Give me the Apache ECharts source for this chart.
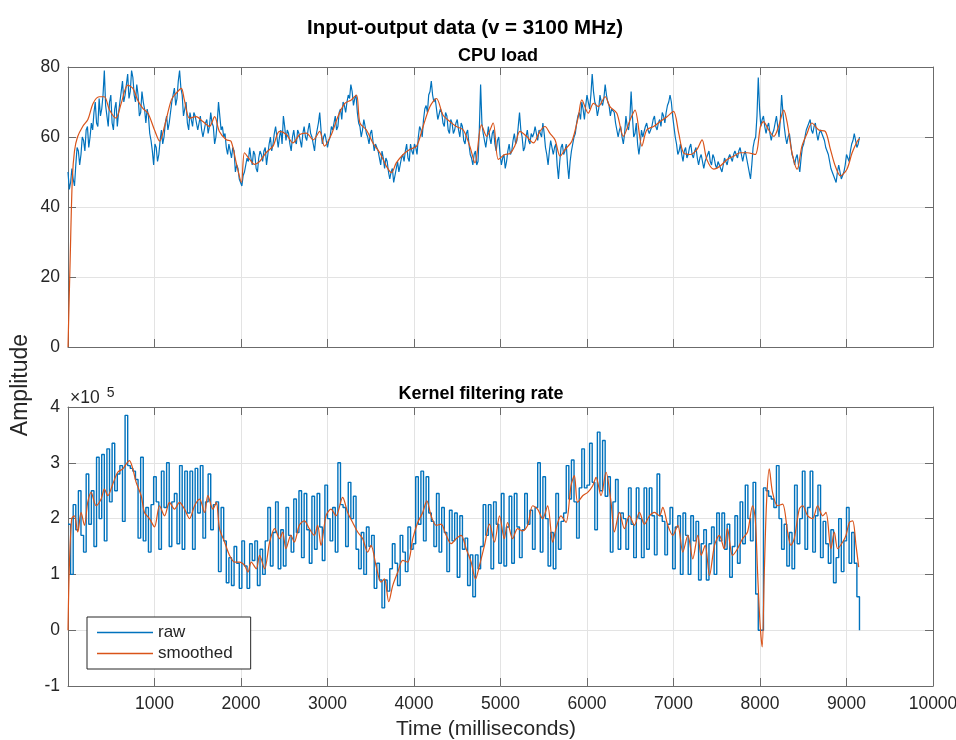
<!DOCTYPE html>
<html>
<head>
<meta charset="utf-8">
<script src="https://cdn.jsdelivr.net/npm/echarts@6/dist/echarts.min.js"></script>
<style>html,body{margin:0;padding:0;background:#fff}#c{width:956px;height:740px}</style>
</head>
<body>
<div id="c"></div>
<script>
// ---- data ----
const cpuRawStep = 15; // ms between raw CPU samples
const cpuRaw = [
 50,45,47,51,48,46,52,57,56,52,55,60,59,56,62,63,57,60,64,62,
 67,70,64,63,71,66,68,72,79,69,66,63,70,72,64,62,68,70,63,67,
 70,73,76,70,72,75,78,71,73,79,77,72,70,75,72,66,67,73,70,68,
 64,68,66,61,59,56,52,58,57,53,55,59,62,58,60,64,66,62,64,67,
 70,72,74,69,71,76,79,74,72,66,68,70,64,62,67,65,63,67,66,64,
 62,64,66,62,60,62,64,65,61,63,67,64,63,58,60,64,70,66,62,63,
 60,61,57,55,58,56,54,57,56,50,52,51,48,47,46,49,50,52,54,53,
 57,54,52,56,55,51,50,54,56,55,53,56,57,52,55,58,60,56,58,61,
 63,60,57,60,62,58,66,63,59,62,61,58,56,60,62,59,58,62,61,59,
 57,61,63,60,59,62,64,61,60,58,56,60,62,64,67,62,58,60,61,59,
 57,59,60,63,62,64,66,62,63,67,68,65,70,69,67,70,72,71,75,73,
 69,71,72,67,64,63,60,62,65,63,61,60,58,61,62,59,56,58,58,56,
 54,52,56,54,51,54,53,50,48,50,51,47,49,51,53,50,52,54,55,53,
 56,58,54,53,58,56,55,58,57,55,60,63,62,60,65,68,69,67,72,73,
 76,72,70,71,68,65,65,68,67,64,63,67,66,62,61,65,64,61,62,64,
 65,62,60,64,63,59,58,61,62,58,55,54,52,55,56,52,53,62,75,64,
 61,59,57,60,63,60,58,61,62,58,56,59,60,55,52,54,55,51,53,56,
 58,55,56,59,61,58,59,63,67,62,60,56,57,60,62,59,58,61,60,61,
 63,61,59,62,61,60,64,61,57,55,52,56,59,57,55,57,58,52,48,53,
 57,58,55,56,58,52,48,53,56,58,60,61,64,66,67,65,70,68,65,69,
 72,70,68,72,78,73,70,69,66,68,72,70,69,71,75,72,70,69,66,68,
 68,67,64,62,60,62,63,60,58,61,66,63,62,65,73,66,60,61,64,58,
 55,58,62,60,60,63,64,62,61,61,63,65,66,63,62,64,65,63,67,66,
 64,67,69,70,72,70,66,63,60,58,55,56,58,55,53,56,57,54,55,57,
 58,55,54,56,57,54,52,54,55,53,51,53,54,55,56,53,52,55,54,52,
 51,53,53,51,50,52,54,53,52,54,55,54,53,55,56,55,54,56,57,55,
 53,55,56,54,52,50,48,52,57,59,60,66,77,68,63,65,66,63,61,63,
 64,61,59,61,62,64,66,63,60,65,72,67,63,60,58,60,61,58,55,54,
 52,54,55,52,50,54,57,58,60,62,63,64,65,62,61,63,64,61,59,61,
 62,61,60,59,57,56,55,53,51,50,49,48,47,50,52,50,48,49,50,52,
 55,54,53,56,58,59,61,59,57,58,60
];
const cpuSmoothT = [0,25,50,75,110,170,230,290,360,420,480,555,615,690,750,805,865,925,1000,1060,1115,1195,1250,1310,1345,1405,1480,1560,1635,1695,1750,1830,1885,1945,2005,2040,2100,2155,2215,2290,2370,2445,2525,2600,2680,2755,2835,2910,2965,3045,3120,3200,3275,3335,3375,3450,3525,3605,3680,3740,3795,3875,3950,4030,4105,4185,4260,4335,4415,4490,4570,4645,4705,4780,4840,4915,4975,5050,5110,5165,5225,5300,5380,5455,5515,5570,5630,5690,5745,5825,5900,5940,6015,6075,6130,6210,6265,6345,6420,6500,6555,6635,6690,6770,6845,6925,7000,7060,7115,7195,7270,7330,7385,7465,7540,7620,7695,7770,7850,7945,8005,8040,8100,8160,8215,8275,8315,8370,8430,8485,8545,8600,8680,8755,8815,8870,8930,9005,9065,9125,9150];
const cpuSmoothV = [0,25,48,56,60,63,65,69.6,71.5,71.5,67.7,65.4,69.6,74.8,73.9,70.6,68.2,66.8,62,58.8,63,70.6,72.5,73.9,70.6,65.4,65.8,64.4,63,65.8,61.6,59.2,58.8,52.6,47,55.5,53.6,52.2,53,55.5,57.4,61.6,60.7,58.3,60.7,61.1,59.2,61.6,57.4,60.7,65.8,69.6,70.6,72,64,62,58.3,55.5,51.7,49.8,52.6,55,56.4,57.4,63,68.7,71,66.3,64.4,63,62,57.4,52.6,63.5,60.2,64,53.6,55,55.3,57.4,61.6,60.2,58.3,61.6,63,61.1,59.2,54.5,56.4,58.8,65.8,70.6,66.8,69.6,68.7,71.5,68.7,66.8,60.2,65,67.7,57.4,62,63,64.4,65.8,67.3,61.1,55.5,55,56.4,59.2,53.6,50.8,51.7,53.6,54.5,55.5,55.5,55,63,64.4,62,60.2,63,67.7,64,55.5,50.8,57.4,61.1,64,62,61.6,56.4,51.7,48.9,50.8,55.5,58.8,59.5];

const kernelRawStep = 30; // ms between raw kernel samples
const kernelRawE5 = [ // units of 1e5
 1.9,1.0,2.25,1.8,2.5,1.7,1.4,2.8,1.9,2.5,
 1.5,3.1,2.0,3.15,1.6,3.25,2.3,3.35,2.5,2.8,
 2.95,1.95,3.85,2.95,2.9,2.85,2.7,1.65,3.1,1.6,
 2.2,1.4,2.25,2.75,2.3,1.45,2.85,2.2,3.0,1.5,
 2.3,2.45,1.55,2.95,1.45,2.85,2.1,2.85,1.45,2.9,
 2.1,2.95,1.65,2.3,2.8,1.8,2.25,2.3,1.05,2.2,
 1.6,0.85,1.3,0.8,1.5,1.2,0.75,1.6,1.15,0.75,
 1.55,1.25,1.6,0.8,1.45,1.0,1.6,2.2,1.15,1.75,
 2.3,1.1,1.8,1.15,2.2,1.7,1.4,2.35,1.75,2.5,
 1.3,2.45,1.8,1.2,2.4,1.45,2.45,1.85,1.25,2.6,
 2.0,1.6,2.2,1.4,3.0,2.25,2.2,1.5,2.65,2.0,
 2.4,1.45,1.1,1.75,1.0,1.85,1.5,1.7,0.75,1.2,
 0.9,0.4,0.9,0.7,1.1,1.55,1.2,0.8,1.7,1.4,
 1.05,1.85,1.45,1.55,2.75,1.9,2.85,1.6,2.75,2.1,
 1.95,1.5,2.45,1.4,2.2,1.75,1.05,2.15,1.6,2.1,
 0.95,2.05,1.45,1.65,0.8,1.35,0.6,1.35,1.1,1.5,
 2.25,1.7,2.25,1.1,2.3,1.9,1.2,2.45,1.15,1.85,
 2.4,1.2,2.45,1.85,1.3,1.8,2.45,1.9,2.15,1.45,
 2.2,3.0,1.4,2.75,2.0,1.15,1.75,1.1,2.45,1.45,
 1.95,2.1,2.95,2.35,3.05,2.3,1.65,2.55,3.25,2.55,
 2.6,3.35,2.65,1.8,3.55,2.5,3.4,2.4,2.75,1.4,
 2.3,2.7,1.45,2.1,2.0,1.45,2.55,1.9,1.3,2.55,
 2.0,1.3,2.55,1.45,2.55,2.05,1.35,2.8,2.05,1.95,
 1.35,1.9,2.2,1.1,1.85,2.05,1.0,2.1,1.7,1.0,
 2.05,1.6,1.95,0.9,1.55,1.8,0.9,1.55,1.85,1.0,
 2.1,1.6,2.1,1.45,1.9,0.95,1.5,2.05,1.2,2.3,
 1.55,2.6,2.0,1.6,2.65,0.65,0.0,0.0,2.55,2.5,
 2.4,2.35,2.2,2.95,2.0,1.45,1.9,1.15,1.75,1.1,
 2.6,1.55,2.0,2.85,1.45,2.2,2.85,1.4,2.05,2.6,
 1.3,1.95,1.55,1.2,1.8,0.85,1.3,2.0,1.05,1.6,
 2.2,1.2,1.75,1.2,0.6,0.0
];
const kernelSmoothT = [0,16,43,74,113,151,190,228,267,325,383,421,460,518,575,633,710,749,788,846,884,942,1000,1058,1116,1174,1231,1289,1347,1405,1463,1521,1579,1617,1675,1714,1752,1810,1868,1926,1984,2042,2080,2119,2177,2215,2273,2331,2389,2447,2481,2520,2577,2616,2674,2732,2790,2847,2886,2925,2983,3040,3098,3175,3233,3291,3349,3407,3465,3503,3561,3619,3658,3708,3754,3812,3870,3928,3986,4043,4101,4148,4198,4256,4314,4372,4429,4487,4545,4603,4661,4711,4757,4815,4873,4931,4989,5044,5082,5140,5198,5256,5314,5372,5429,5487,5545,5603,5642,5699,5757,5815,5854,5892,5950,6008,6066,6105,6162,6220,6278,6317,6375,6432,6490,6548,6606,6664,6722,6780,6838,6876,6934,6992,7050,7108,7166,7223,7281,7320,7366,7416,7474,7530,7586,7624,7682,7740,7798,7856,7914,7945,7972,7999,8025,8049,8076,8107,8145,8203,8261,8319,8358,8396,8454,8493,8551,8608,8666,8724,8763,8820,8859,8898,8956,8994,9033,9071,9110,9141];
const kernelSmoothE5 = [0,1.16,2.0,2.05,1.76,2.11,1.88,2.29,2.47,2.23,2.35,2.53,2.41,2.62,2.83,2.89,3.04,2.89,2.65,2.41,2.11,2.0,1.85,2.23,2.05,2.29,2.17,2.29,2.17,2.0,2.23,2.35,2.11,2.41,2.17,2.29,1.82,1.58,1.34,1.22,1.22,1.16,1.04,1.22,1.1,1.34,1.1,1.58,1.82,1.64,1.76,1.46,1.7,1.58,1.88,1.96,1.82,1.7,1.88,1.52,2.05,2.17,2.05,2.38,2.11,1.93,1.76,1.64,1.4,1.52,1.16,0.86,0.92,0.51,0.8,1.04,1.25,1.22,1.64,1.93,2.11,2.32,2.05,1.88,1.9,1.7,1.55,1.64,1.7,1.46,1.22,0.92,1.16,1.52,1.9,1.58,2.05,1.64,1.93,1.64,1.82,1.78,1.88,2.23,2.17,2.0,2.23,1.58,1.82,2.05,1.93,2.59,2.77,2.29,2.41,2.47,2.59,2.74,2.41,2.83,2.29,1.76,2.11,1.82,2.05,1.88,2.11,1.9,2.05,2.11,2.05,2.2,1.88,1.7,1.88,1.4,1.7,1.28,1.7,1.34,1.52,0.98,1.52,1.7,1.46,1.82,1.34,1.46,1.64,1.76,2.23,2.0,1.04,0.15,-0.3,1.0,2.3,2.89,2.47,2.23,2.26,1.76,1.52,1.64,2.17,2.23,2.05,2.0,2.23,2.05,2.11,1.46,1.76,1.46,1.58,1.7,1.93,1.96,1.52,1.13];

const xTicks = [0,1000,2000,3000,4000,5000,6000,7000,8000,9000,10000];
const cpuTicks = [0,20,40,60,80];
const kernelTicks = [-1,0,1,2,3,4];

// ---- chart ----
const BLUE = '#0072BD', ORANGE = '#D95319';
const FONT = 'Liberation Sans';
const AX = '#6b6b6b', TXT = '#262626', GRIDC = '#e3e3e3';

function xAx(grid, pos, labels) {
  return {
    type: 'value', gridIndex: grid, position: pos,
    min: xTicks[0], max: xTicks[xTicks.length-1], interval: 1000,
    axisLine: {show: true, onZero: false, lineStyle: {color: AX, width: 1}},
    axisTick: {show: true, inside: true, length: 8, lineStyle: {color: AX}},
    axisLabel: {show: labels, color: TXT, fontFamily: FONT, fontSize: 17.5, margin: 9,
      formatter: v => v === 0 ? '' : String(v)},
    splitLine: {show: pos === 'bottom', lineStyle: {color: GRIDC, width: 1}}
  };
}
function yAx(grid, pos, ticks, labels) {
  return {
    type: 'value', gridIndex: grid, position: pos,
    min: ticks[0], max: ticks[ticks.length-1], interval: ticks[1]-ticks[0],
    axisLine: {show: true, onZero: false, lineStyle: {color: AX, width: 1}},
    axisTick: {show: true, inside: true, length: 8, lineStyle: {color: AX}},
    axisLabel: {show: labels, color: TXT, fontFamily: FONT, fontSize: 17.5, margin: 8},
    splitLine: {show: pos === 'left', lineStyle: {color: GRIDC, width: 1}}
  };
}

const chart = echarts.init(document.getElementById('c'), null, {renderer: 'canvas'});
chart.setOption({
  animation: false,
  backgroundColor: '#fff',
  title: [
    {text: 'Input-output data (v = 3100 MHz)', left: 460, textAlign: 'center', top: 13,
     textStyle: {fontFamily: FONT, fontSize: 20.5, fontWeight: 'bold', color: '#000'}},
    {text: 'CPU load', left: 493, textAlign: 'center', top: 42,
     textStyle: {fontFamily: FONT, fontSize: 18, fontWeight: 'bold', color: '#000'}},
    {text: 'Kernel filtering rate', left: 476, textAlign: 'center', top: 380,
     textStyle: {fontFamily: FONT, fontSize: 18, fontWeight: 'bold', color: '#000'}}
  ],
  grid: [
    {left: 68, top: 67, width: 865, height: 280, containLabel: false, outerBoundsMode: 'none'},
    {left: 68, top: 407, width: 865, height: 279, containLabel: false, outerBoundsMode: 'none'}
  ],
  xAxis: [xAx(0,'bottom',false), xAx(0,'top',false), xAx(1,'bottom',true), xAx(1,'top',false)],
  yAxis: [yAx(0,'left',cpuTicks,true), yAx(0,'right',cpuTicks,false),
          yAx(1,'left',kernelTicks,true), yAx(1,'right',kernelTicks,false)],
  legend: {
    data: ['raw','smoothed'], orient: 'vertical', left: 87, top: 617,
    icon: 'rect', itemWidth: 56, itemHeight: 1.5, itemGap: 4,
    padding: [7, 18, 7, 10],
    borderColor: '#262626', borderWidth: 1, backgroundColor: '#fff',
    textStyle: {fontFamily: FONT, fontSize: 17, color: TXT}
  },
  graphic: [
    {type: 'text', left: 70, top: 386, style: {
      text: '×10{s|5}', fontFamily: FONT, fontSize: 17.5, fill: TXT,
      rich: {s: {fontFamily: FONT, fontSize: 14, fill: TXT, verticalAlign: 'top', padding: [0,0,10,7]}}}},
    {type: 'text', x: 21, y: 385, rotation: Math.PI/2, style: {
      text: 'Amplitude', fontFamily: FONT, fontSize: 23, fill: TXT, align: 'center', verticalAlign: 'middle'}},
    {type: 'text', x: 486, y: 729, style: {
      text: 'Time (milliseconds)', fontFamily: FONT, fontSize: 21, fill: TXT, align: 'center', verticalAlign: 'middle'}}
  ],
  series: [
    {name: 'raw', type: 'line', xAxisIndex: 0, yAxisIndex: 0, showSymbol: false, symbol: 'none',
     data: cpuRaw.map((v,i) => [i*cpuRawStep, v]), lineStyle: {color: BLUE, width: 1.2}, itemStyle: {color: BLUE}, z: 2},
    {name: 'smoothed', type: 'line', xAxisIndex: 0, yAxisIndex: 0, showSymbol: false, symbol: 'none', smooth: 0.3,
     data: cpuSmoothT.map((t,i) => [t, cpuSmoothV[i]]), lineStyle: {color: ORANGE, width: 1.2}, itemStyle: {color: ORANGE}, z: 3},
    {name: 'raw', type: 'line', xAxisIndex: 2, yAxisIndex: 2, showSymbol: false, symbol: 'none', step: 'end',
     data: kernelRawE5.map((v,i) => [i*kernelRawStep, v]), lineStyle: {color: BLUE, width: 1.4}, itemStyle: {color: BLUE}, z: 2},
    {name: 'smoothed', type: 'line', xAxisIndex: 2, yAxisIndex: 2, showSymbol: false, symbol: 'none', smooth: 0.3,
     data: kernelSmoothT.map((t,i) => [t, kernelSmoothE5[i]]), lineStyle: {color: ORANGE, width: 1.2}, itemStyle: {color: ORANGE}, z: 3}
  ]
});
</script>
</body>
</html>
